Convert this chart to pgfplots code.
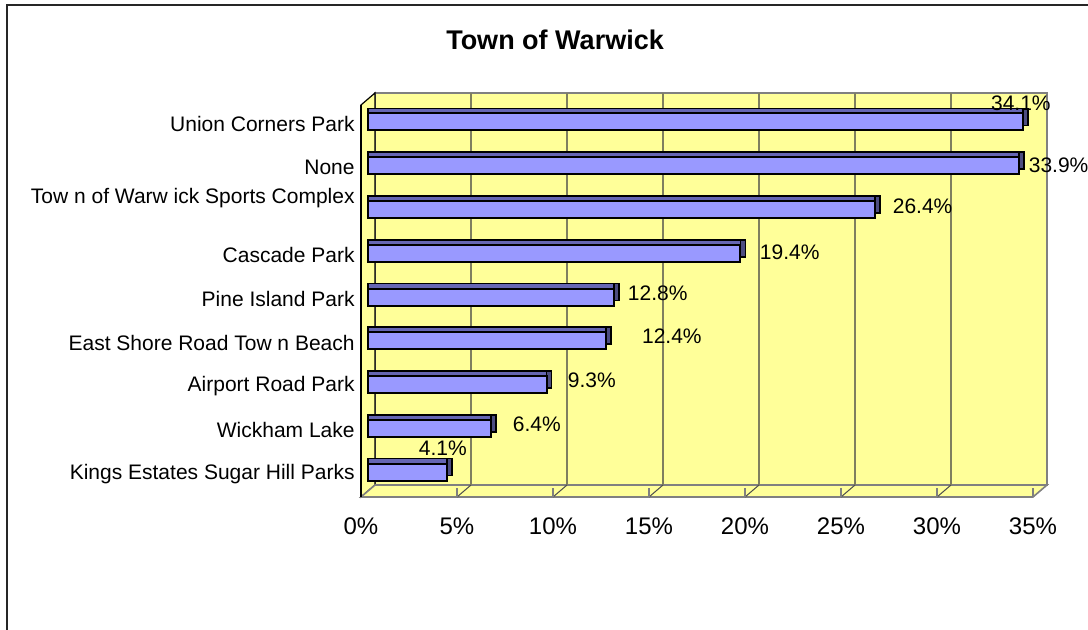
\documentclass[border=0pt]{standalone}
\usepackage{fontspec}
\setmainfont{Liberation Sans}
\usepackage{pgfplots}
\usepackage{pgfplotstable}
\pgfplotsset{compat=1.18}

\definecolor{wallc}{HTML}{FFFF99}
\definecolor{gridc}{HTML}{7F7F5F}
\definecolor{edgec}{HTML}{808080}
\definecolor{frontc}{HTML}{9999FF}
\definecolor{topc}{HTML}{6666B3}
\definecolor{sidec}{HTML}{4D4D80}

% y = category position (0 = bottom), v = percent, dx/dy = label offsets in pt
\pgfplotstableread{
y v dx dy
0 4.1 -14.4 12
1 6.4 10.5 2.1
2 9.3 10.2 2.25
3 12.4 17.5 2.4
4 12.8 6.6 2
5 19.4 9.25 0.6
6 26.4 8.5 1.75
7 33.9 4.5 0
8 34.1 -16.3 9.5
}\datatable

\def\ylo{-0.434}
\def\yhi{8.526}

\begin{document}
\begin{tikzpicture}
\path[use as bounding box] (0,0) rectangle (544pt,315pt);
\draw[line width=1pt, black!85] (3.5pt,0) -- (3.5pt,312.5pt) -- (544pt,312.5pt);

\begin{axis}[
    at={(184pt,69.5pt)}, anchor=south west,
    scale only axis,
    width=336pt, height=196pt,
    xmin=0, xmax=35,
    ymin=\ylo, ymax=\yhi,
    clip=false,
    axis line style={draw=none},
    major tick length=0pt,
    xtick={0,5,...,35},
    xticklabels={0\%,5\%,10\%,15\%,20\%,25\%,30\%,35\%},
    xticklabel style={font=\fontsize{12}{14}\selectfont, anchor=north, inner sep=0pt, yshift=-13pt, xshift=-3.5pt},
    ytick={0,...,8},
    yticklabels={Kings Estates Sugar Hill Parks, Wickham Lake, Airport Road Park,
        East Shore Road Tow n Beach, Pine Island Park, Cascade Park,
        \raisebox{15.7pt}{Tow n of Warw ick Sports Complex}, None, Union Corners Park},
    yticklabel style={font=\fontsize{10.5}{12}\selectfont, anchor=east, inner sep=0pt, xshift=-6.5pt, yshift=-1pt},
    /pgf/number format/assume math mode=true,
]
% back wall
\filldraw[fill=wallc, draw=edgec, line width=0.8pt]
    ([shift={(3.5pt,3pt)}]axis cs:0,\ylo) rectangle ([shift={(3.5pt,3pt)}]axis cs:35,\yhi);
% left side wall
\filldraw[fill=wallc, draw=black, line width=0.6pt]
    ([shift={(-3.5pt,-3pt)}]axis cs:0,\ylo) -- ([shift={(-3.5pt,-3pt)}]axis cs:0,\yhi)
    -- ([shift={(3.5pt,3pt)}]axis cs:0,\yhi) -- ([shift={(3.5pt,3pt)}]axis cs:0,\ylo) -- cycle;
% floor
\filldraw[fill=wallc, draw=edgec, line width=0.8pt]
    ([shift={(-3.5pt,-3pt)}]axis cs:0,\ylo) -- ([shift={(-3.5pt,-3pt)}]axis cs:35,\ylo)
    -- ([shift={(3.5pt,3pt)}]axis cs:35,\ylo) -- ([shift={(3.5pt,3pt)}]axis cs:0,\ylo) -- cycle;
% grid on wall and floor
\pgfplotsinvokeforeach{5,10,...,30}{
    \draw[gridc, line width=0.8pt] ([shift={(3.5pt,3pt)}]axis cs:#1,\ylo) -- ([shift={(3.5pt,3pt)}]axis cs:#1,\yhi);
    \draw[black!70, line width=0.5pt] ([shift={(-3.5pt,-3pt)}]axis cs:#1,\ylo) -- ([shift={(3.5pt,3pt)}]axis cs:#1,\ylo);
}
% front ticks
\pgfplotsinvokeforeach{0,5,...,35}{
    \draw[edgec, line width=0.8pt] ([shift={(-3.5pt,-3pt)}]axis cs:#1,\ylo) -- ++(0,-5pt);
}
\draw[black, line width=0.6pt] ([shift={(-3.5pt,-3pt)}]axis cs:0,\ylo) -- ([shift={(-3.5pt,-3pt)}]axis cs:0,\yhi);

% 3D bar faces
\addplot[xbar, bar width=8.5pt, fill=sidec, draw=black, line width=0.8pt, xshift=2.5pt, yshift=2.5pt]
    table[x=v, y=y] {\datatable};
\addplot[xbar, bar width=8.5pt, fill=topc, draw=black, line width=0.8pt, yshift=2.5pt]
    table[x=v, y=y] {\datatable};
\addplot[xbar, bar width=8.5pt, fill=frontc, draw=black, line width=1pt,
    point meta=x,
    visualization depends on={\thisrow{dx} \as \dx},
    visualization depends on={\thisrow{dy} \as \dy},
    nodes near coords={\pgfmathprintnumber[fixed, precision=1, fixed zerofill]{\pgfplotspointmeta}\%},
    every node near coord/.append style={anchor=west, inner sep=0pt, xshift=\dx pt, yshift=\dy pt,
        font=\fontsize{10.5}{12}\selectfont, text=black}]
    table[x=v, y=y] {\datatable};
\end{axis}

\node[font=\bfseries\fontsize{13.5}{15}\selectfont] at (277.5pt,295pt) {Town of Warwick};
\end{tikzpicture}
\end{document}
